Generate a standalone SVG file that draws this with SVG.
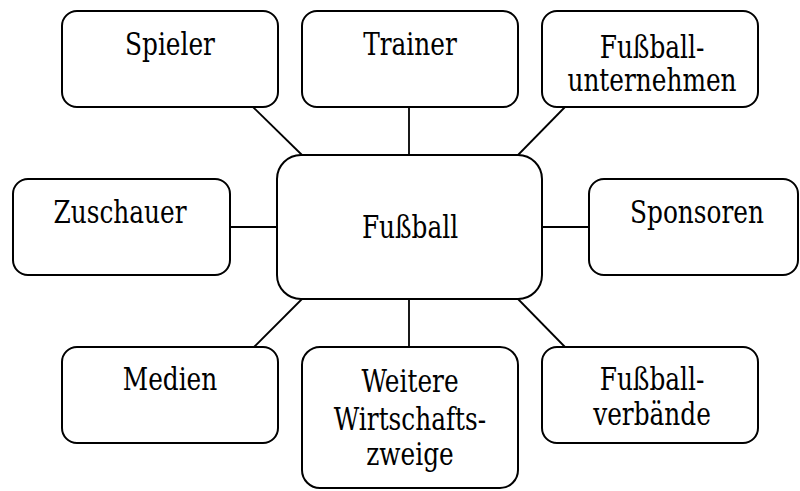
<svg xmlns="http://www.w3.org/2000/svg" width="800" height="491" viewBox="0 0 800 491">
<style>
.box{fill:#fff;stroke:#000;stroke-width:2}
text{font-family:"DejaVu Serif","Liberation Serif",serif;font-size:31px;fill:#000;text-anchor:middle}
.c{stroke:#000;stroke-width:1.8;fill:none}
</style>
<rect width="800" height="491" fill="#fff"/>
<g id="connectors">
<line class="c" x1="253" y1="107" x2="302" y2="155"/>
<line class="c" x1="409" y1="107" x2="409" y2="155"/>
<line class="c" x1="565" y1="107" x2="518" y2="155"/>
<line class="c" x1="230" y1="227" x2="277" y2="227"/>
<line class="c" x1="542" y1="227" x2="589" y2="227"/>
<line class="c" x1="254" y1="347" x2="302" y2="299"/>
<line class="c" x1="409" y1="299" x2="409" y2="347"/>
<line class="c" x1="565" y1="347" x2="518" y2="299"/>
</g>
<g id="fussball">
<rect class="box" x="277" y="155" width="265" height="144" rx="24"/>
<text transform="translate(410,238) scale(0.8,1)">Fußball</text>
</g>
<g id="spieler">
<rect class="box" x="62" y="11" width="216" height="96" rx="15"/>
<text transform="translate(170,55) scale(0.8,1)">Spieler</text>
</g>
<g id="trainer">
<rect class="box" x="302" y="11" width="216" height="96" rx="15"/>
<text transform="translate(410,55) scale(0.8,1)">Trainer</text>
</g>
<g id="fussballunternehmen">
<rect class="box" x="542" y="11" width="216" height="96" rx="15"/>
<text transform="translate(652,58) scale(0.8,1)">Fußball-</text>
<text transform="translate(652,91) scale(0.8,1)">unternehmen</text>
</g>
<g id="zuschauer">
<rect class="box" x="13" y="179" width="217" height="96" rx="15"/>
<text transform="translate(120,223) scale(0.8,1)">Zuschauer</text>
</g>
<g id="sponsoren">
<rect class="box" x="589" y="179" width="209" height="96" rx="15"/>
<text transform="translate(697,223) scale(0.8,1)">Sponsoren</text>
</g>
<g id="medien">
<rect class="box" x="62" y="347" width="216" height="96" rx="15"/>
<text transform="translate(170,390) scale(0.8,1)">Medien</text>
</g>
<g id="weitere">
<rect class="box" x="302" y="347" width="216" height="141" rx="18"/>
<text transform="translate(410,392) scale(0.8,1)">Weitere</text>
<text transform="translate(410,430) scale(0.8,1)">Wirtschafts-</text>
<text transform="translate(410,465) scale(0.8,1)">zweige</text>
</g>
<g id="fussballverbaende">
<rect class="box" x="542" y="347" width="216" height="96" rx="15"/>
<text transform="translate(652,390) scale(0.8,1)">Fußball-</text>
<text transform="translate(652,425) scale(0.8,1)">verbände</text>
</g>
</svg>
